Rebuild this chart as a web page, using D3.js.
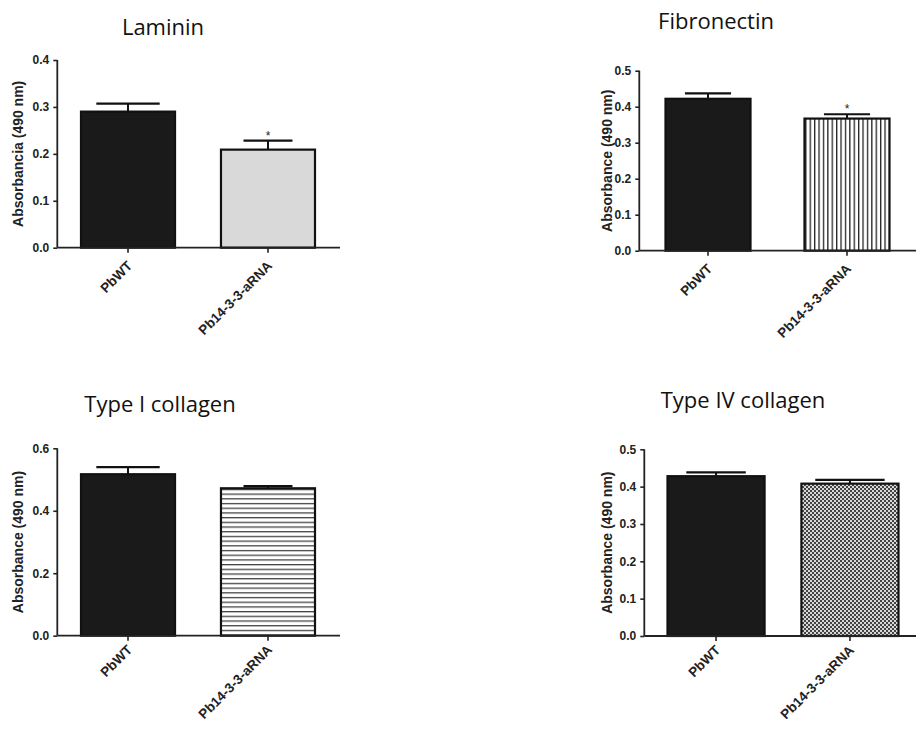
<!DOCTYPE html>
<html>
<head>
<meta charset="utf-8">
<script src="https://cdn.jsdelivr.net/npm/d3@7"></script>
<style>
  html, body { margin: 0; padding: 0; background: #ffffff; }
  svg { display: block; }
  .tick-label { font-family: "Liberation Sans", Arial, sans-serif; font-weight: bold; font-size: 12px; fill: #222; }
  .axis-title { font-family: "Liberation Sans", Arial, sans-serif; font-weight: bold; font-size: 14px; fill: #222; }
  .cat-label { font-family: "Liberation Sans", Arial, sans-serif; font-weight: bold; font-size: 13.5px; fill: #222; }
  .panel-title { font-family: "Open Sans", sans-serif; font-size: 22px; fill: #111; }
</style>
</head>
<body>
<svg id="chart" width="916" height="729"></svg>
<script>
// Adhesion of two strains to extracellular matrix proteins (absorbance, mean + SEM)
const groups = ["PbWT", "Pb14-3-3-aRNA"];
const titles = ["Laminin", "Fibronectin", "Type I collagen", "Type IV collagen"];
const yTitles = ["Absorbancia (490 nm)", "Absorbance (490 nm)", "Absorbance (490 nm)", "Absorbance (490 nm)"];
const meanValues = [
  [0.290, 0.209],
  [0.422, 0.367],
  [0.517, 0.472],
  [0.428, 0.408]
];
const semValues = [
  [0.017, 0.019],
  [0.015, 0.012],
  [0.023, 0.007],
  [0.010, 0.010]
];
const yMaxValues = [0.4, 0.5, 0.6, 0.5];
const yTickSteps = [0.1, 0.1, 0.2, 0.1];
const significant = [
  [false, true],
  [false, true],
  [false, false],
  [false, false]
];

// Placement of each panel on the page
const frames = [
  { ax: 57.3,  top: 60,    bot: 247.7, xEnd: 340, band: [80, 316],      pad: 0.314, titleOff: 39, titleX: 163, titleY: 35,  labelDy: 19, caps: [0.66, 0.51] },
  { ax: 639.3, top: 70.7,  bot: 250.7, xEnd: 916, band: [664.5, 890.5], pad: 0.374, titleOff: 32, titleX: 716, titleY: 29,  labelDy: 19, caps: [0.53, 0.53] },
  { ax: 57.3,  top: 448.3, bot: 635.7, xEnd: 340, band: [80, 316],      pad: 0.314, titleOff: 39, titleX: 160, titleY: 412, labelDy: 15, caps: [0.66, 0.51] },
  { ax: 644.3, top: 449.3, bot: 636,   xEnd: 916, band: [666.5, 899.5], pad: 0.26,  titleOff: 37, titleX: 743, titleY: 408, labelDy: 15, caps: [0.60, 0.70] }
];

const svg = d3.select("#chart");
const defs = svg.append("defs");

// Fill patterns for the second group in each panel
const vLines = defs.append("pattern").attr("id", "vlines")
  .attr("patternUnits", "userSpaceOnUse").attr("width", 4.4).attr("height", 10);
vLines.append("rect").attr("width", 4.4).attr("height", 10).attr("fill", "#fff");
vLines.append("rect").attr("x", 0).attr("width", 1.3).attr("height", 10).attr("fill", "#222");

const hLines = defs.append("pattern").attr("id", "hlines")
  .attr("patternUnits", "userSpaceOnUse").attr("width", 10).attr("height", 4.7);
hLines.append("rect").attr("width", 10).attr("height", 4.7).attr("fill", "#fff");
hLines.append("rect").attr("y", 0).attr("width", 10).attr("height", 1.3).attr("fill", "#444");

const checks = defs.append("pattern").attr("id", "checks")
  .attr("patternUnits", "userSpaceOnUse").attr("width", 4).attr("height", 4);
checks.append("rect").attr("width", 4).attr("height", 4).attr("fill", "#d8d8d8");
checks.append("rect").attr("x", 0).attr("y", 0).attr("width", 2).attr("height", 2).attr("fill", "#444");
checks.append("rect").attr("x", 2).attr("y", 2).attr("width", 2).attr("height", 2).attr("fill", "#444");

const secondFills = ["#d9d9d9", "url(#vlines)", "url(#hlines)", "url(#checks)"];
const firstFill = "#1a1a1a";
const ink = "#222";

titles.forEach((title, p) => {
  const f = frames[p];
  const g = svg.append("g");

  const y = d3.scaleLinear().domain([0, yMaxValues[p]]).range([f.bot, f.top]);
  const x = d3.scaleBand().domain(groups).range(f.band).paddingInner(f.pad).paddingOuter(0);
  const tickVals = d3.range(0, yMaxValues[p] + 1e-9, yTickSteps[p]);

  // Bars
  g.selectAll("rect.bar")
    .data(groups.map((name, i) => ({ name, i, v: meanValues[p][i], e: semValues[p][i] })))
    .join("rect")
    .attr("class", "bar")
    .attr("x", d => x(d.name) + 1)
    .attr("width", x.bandwidth() - 2)
    .attr("y", d => y(d.v))
    .attr("height", d => y(0) - y(d.v))
    .attr("fill", d => d.i === 0 ? firstFill : secondFills[p])
    .attr("stroke", "#111")
    .attr("stroke-width", 2.2);

  // Upper error bars (SEM)
  groups.forEach((name, i) => {
    const cx = x(name) + x.bandwidth() / 2;
    const top = y(meanValues[p][i] + semValues[p][i]);
    const half = x.bandwidth() * f.caps[i] / 2;
    g.append("line").attr("x1", cx).attr("x2", cx)
      .attr("y1", y(meanValues[p][i])).attr("y2", top)
      .attr("stroke", "#111").attr("stroke-width", 2);
    g.append("line").attr("x1", cx - half).attr("x2", cx + half)
      .attr("y1", top).attr("y2", top)
      .attr("stroke", "#111").attr("stroke-width", 2.2);
    if (significant[p][i]) {
      g.append("text").attr("class", "tick-label")
        .attr("x", cx).attr("y", top - 1)
        .attr("text-anchor", "middle")
        .style("font-weight", "normal")
        .style("font-size", "12px")
        .text("*");
    }
  });

  // Y axis
  const yAxis = d3.axisLeft(y).tickValues(tickVals).tickFormat(d3.format(".1f")).tickSize(4).tickPadding(4);
  const ya = g.append("g").attr("transform", `translate(${f.ax},0)`).call(yAxis);
  ya.select(".domain").attr("stroke", ink).attr("stroke-width", 1.8).attr("d", `M0,${f.top}V${f.bot}`);
  ya.selectAll(".tick line").attr("stroke", ink).attr("stroke-width", 1.6);
  ya.selectAll(".tick text").attr("class", "tick-label").attr("fill", null);
  ya.attr("font-family", null).attr("font-size", null);

  // X axis baseline with category ticks
  g.append("line").attr("x1", f.ax).attr("x2", f.xEnd)
    .attr("y1", f.bot).attr("y2", f.bot)
    .attr("stroke", ink).attr("stroke-width", 1.8);
  const xAxis = d3.axisBottom(x).tickSize(5).tickFormat("");
  const xa = g.append("g").attr("transform", `translate(0,${f.bot})`).call(xAxis);
  xa.select(".domain").remove();
  xa.selectAll(".tick line").attr("stroke", ink).attr("stroke-width", 1.6);

  groups.forEach(name => {
    const cx = x(name) + x.bandwidth() / 2;
    g.append("text").attr("class", "cat-label")
      .attr("text-anchor", "end")
      .attr("transform", `translate(${cx + 5},${f.bot + f.labelDy}) rotate(-45)`)
      .text(name);
  });

  // Axis title
  g.append("text").attr("class", "axis-title")
    .attr("text-anchor", "middle")
    .attr("dy", "0.35em")
    .attr("transform", `translate(${f.ax - f.titleOff},${(f.top + f.bot) / 2}) rotate(-90)`)
    .text(yTitles[p]);

  // Panel title
  g.append("text").attr("class", "panel-title")
    .attr("x", f.titleX).attr("y", f.titleY)
    .attr("text-anchor", "middle")
    .text(title);
});
</script>
</body>
</html>
